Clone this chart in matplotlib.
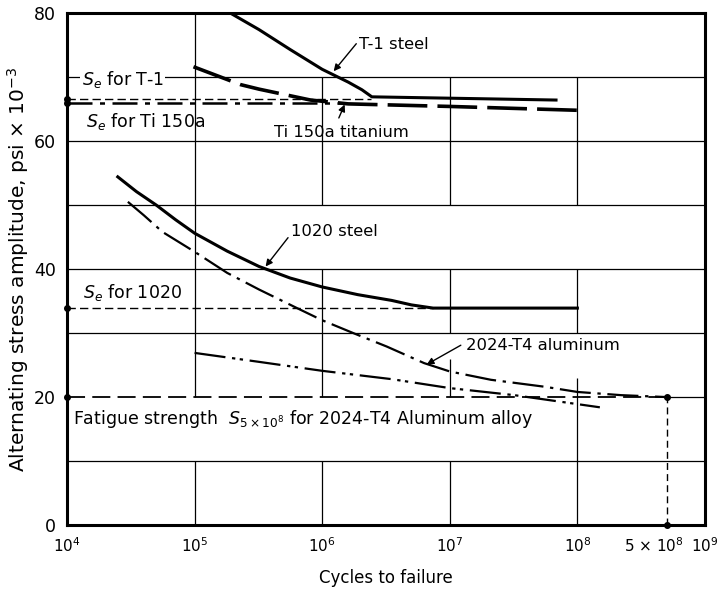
import numpy as np
import matplotlib.pyplot as plt
from matplotlib.transforms import ScaledTranslation

# S-N curves, cycles vs alternating stress (ksi)
t1_n = [1.9e5, 3.2e5, 5.6e5, 1e6, 1.6e6, 2.05e6, 2.45e6, 6.8e7]
t1_s = [80.0, 77.4, 74.3, 71.2, 69.2, 68.0, 66.9, 66.4]

ti_n = [9.8e4, 2.3e5, 3.2e5, 8.1e5, 1.6e6, 1e7, 1e8]
ti_s = [71.6, 68.8, 68.1, 66.4, 65.8, 65.4, 64.8]

st1020_n = [2.5e4, 3.5e4, 5e4, 7.1e4, 1e5, 1.8e5, 3.2e5, 5.6e5, 1e6,
            1.9e6, 3.5e6, 5e6, 7.4e6, 1e8]
st1020_s = [54.4, 52.1, 50.0, 47.7, 45.6, 42.8, 40.4, 38.6, 37.2,
            36.0, 35.1, 34.4, 33.9, 33.9]

al_upper_n = [3e4, 4e4, 5.6e4, 1e5, 1.8e5, 3.2e5, 6.5e5, 1e6, 1.8e6,
              3.2e6, 6.3e6, 1e7, 2.1e7, 5.6e7, 1e8, 2.2e8, 5e8]
al_upper_s = [50.5, 48.4, 45.8, 42.7, 39.4, 36.8, 33.8, 32.0, 29.9,
              27.9, 25.3, 24.0, 22.7, 21.6, 20.8, 20.3, 20.0]

al_lower_n = [1e5, 3.2e5, 1e6, 3.5e6, 1e7, 3.2e7, 1.5e8]
al_lower_s = [26.9, 25.5, 24.1, 22.8, 21.4, 20.3, 18.4]

# endurance limits / fatigue strength
se_t1 = 66.5
se_ti = 65.9
se_1020 = 33.9
s_al = 20.0
n_al = 5e8

x_ticks = [1e4, 1e5, 1e6, 1e7, 1e8, 5e8, 1e9]
x_ticklabels = ['$10^4$', '$10^5$', '$10^6$', '$10^7$', '$10^8$',
                r'5 $\times$ 10$^8$', '$10^9$']
y_ticks = [0, 20, 40, 60, 80]

# horizontal rules and the vertical rules drawn inside each band
h_rules = [10, 30, 40, 50, 60, 70]
v_rules = {
    (70, 80): [1e5],
    (60, 70): [1e5, 1e6, 1e7, 1e8],
    (50, 60): [1e5, 1e6, 1e7, 1e8],
    (40, 50): [1e5],
    (30, 40): [1e5, 1e6, 1e7, 1e8],
    (20, 30): [1e5, 1e6],
    (10, 20): [1e8],
    (0, 10): [1e5, 1e6, 1e7, 1e8],
}

plt.rcParams['font.family'] = ['DejaVu Sans']
plt.rcParams['mathtext.fontset'] = 'dejavusans'

fig = plt.figure(figsize=(7.25, 5.9), dpi=100)
ax = fig.add_axes([0.0924, 0.110, 0.880, 0.868])
ax.set_xscale('log')
ax.set_xlim(1e4, 1e9)
ax.set_ylim(0, 80)

gkw = dict(color='black', lw=0.9, zorder=1)
for y in h_rules:
    ax.axhline(y, **gkw)
for (y0, y1), xs in v_rules.items():
    ax.vlines(xs, y0, y1, **gkw)
# partial rules in the 20-30 band
ax.vlines(1e7, 20, 26, **gkw)
ax.vlines(1e8, 20, 23, **gkw)
ax.hlines(s_al, n_al, 1e9, **gkw)

# curves
ax.plot(t1_n, t1_s, color='black', lw=2.2, zorder=3)
ax.plot(ti_n, ti_s, color='black', lw=2.6, dashes=(11, 2.8), zorder=3)
ax.plot(st1020_n, st1020_s, color='black', lw=2.2, zorder=3)
ax.plot(al_upper_n, al_upper_s, color='black', lw=1.6,
        dashes=(14, 3, 1.5, 3), zorder=3)
ax.plot(al_lower_n, al_lower_s, color='black', lw=1.6,
        dashes=(14, 3, 1.5, 2, 1.5, 3), zorder=3)

# limit lines
ax.hlines(se_t1, 1e4, 2.4e6, color='black', lw=1.0, linestyles=(0, (6, 3)), zorder=2)
ax.hlines(se_ti, 1e4, 1.5e6, color='black', lw=1.8, linestyles=(0, (10, 3, 2, 3)), zorder=2)
ax.hlines(se_1020, 1e4, 7.4e6, color='black', lw=1.0, linestyles=(0, (6, 3)), zorder=2)
ax.hlines(s_al, 1e4, n_al, color='black', lw=1.3, linestyles=(0, (10, 4)), zorder=2)
ax.vlines(n_al, 0, s_al, color='black', lw=1.0, linestyles=(0, (5, 3)), zorder=2)

dots_x = [1e4, 1e4, 1e4, 1e4, n_al, n_al]
dots_y = [se_t1, se_ti, se_1020, s_al, s_al, 0]
ax.plot(dots_x, dots_y, 'o', color='black', ms=4, clip_on=False, zorder=5)

# limit labels
fs = 12.5
box = dict(facecolor='white', edgecolor='none', pad=1)
ax.text(1.3e4, 69.6, '$S_e$ for T-1', fontsize=fs, va='center', bbox=box, zorder=4)
ax.text(1.4e4, 63.1, '$S_e$ for Ti 150a', fontsize=fs, va='center', zorder=4)
ax.text(1.33e4, 36.4, '$S_e$ for 1020', fontsize=fs, va='center', zorder=4)
ax.text(1.11e4, 16.6, r'Fatigue strength  $S_{5\times10^8}$ for 2024-T4 Aluminum alloy',
        fontsize=fs, va='center', zorder=4)

# curve labels with leader arrows
afs = 11.8
akw = dict(arrowstyle='-|>', color='black', lw=1.0, mutation_scale=10,
           shrinkA=0, shrinkB=0)
ax.text(1.95e6, 75.0, 'T-1 steel', fontsize=afs, va='center')
ax.annotate('', xy=(1.23e6, 70.9), xytext=(1.85e6, 75.2), arrowprops=akw)
ax.text(4.2e5, 61.3, 'Ti 150a titanium', fontsize=afs, va='center')
ax.annotate('', xy=(1.5e6, 65.7), xytext=(1.35e6, 63.6), arrowprops=akw)
ax.text(5.7e5, 45.8, '1020 steel', fontsize=afs, va='center')
ax.annotate('', xy=(3.6e5, 40.4), xytext=(5.4e5, 44.9), arrowprops=akw)
ax.text(1.35e7, 28.1, '2024-T4 aluminum', fontsize=afs, va='center')
ax.annotate('', xy=(6.6e6, 25.1), xytext=(1.22e7, 28.1), arrowprops=akw)

ax.set_xticks(x_ticks)
ax.set_xticklabels(x_ticklabels, fontsize=11)
ax.minorticks_off()
ax.set_yticks(y_ticks)
ax.set_yticklabels([str(v) for v in y_ticks], fontsize=12.5)
ax.tick_params(length=0, pad=8)
xlbls = ax.get_xticklabels()
xlbls[5].set_transform(xlbls[5].get_transform() + ScaledTranslation(-9 / 72, 0, fig.dpi_scale_trans))
ax.set_xlabel('Cycles to failure', fontsize=12, labelpad=10)
ax.set_ylabel(r'Alternating stress amplitude, psi $\times$ 10$^{-3}$', fontsize=14.5, labelpad=2)
for sp in ax.spines.values():
    sp.set_linewidth(2.2)

fig.savefig('out.png', dpi=100)
